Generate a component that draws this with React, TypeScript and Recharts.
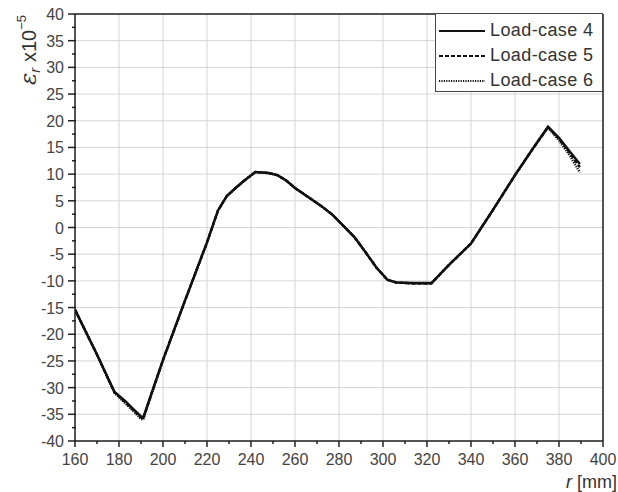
import {
  CartesianGrid,
  Legend,
  Line,
  LineChart,
  ReferenceLine,
  XAxis,
  YAxis,
} from "recharts";

// radial position r [mm]
const rValues = [
  160, 165, 170, 175, 178, 183, 187, 190, 191, 195, 200, 210, 220, 225, 229,
  233, 237, 242, 248, 252, 256, 260, 266, 272, 277, 282, 287, 292, 297, 302,
  306, 314, 322, 330, 340, 350, 360, 368, 375, 380, 385, 389.5,
];

// radial strain, x10^-5
const loadCase4 = [
  -15.4, -19.6, -23.8, -28.2, -30.8, -32.6, -34.2, -35.4, -35.6, -30.8, -24.8,
  -13.7, -2.8, 3.2, 5.9, 7.4, 8.8, 10.4, 10.2, 9.8, 8.8, 7.4, 5.7, 4.0, 2.4,
  0.3, -1.8, -4.6, -7.5, -9.8, -10.3, -10.4, -10.4, -7.0, -3.0, 3.3, 9.8, 14.7,
  18.9, 16.8, 14.2, 11.9,
];
const loadCase5 = [
  -15.4, -19.6, -23.8, -28.3, -30.9, -32.8, -34.4, -35.6, -35.8, -30.9, -24.8,
  -13.7, -2.8, 3.2, 5.9, 7.4, 8.8, 10.4, 10.2, 9.8, 8.8, 7.4, 5.7, 4.0, 2.4,
  0.3, -1.8, -4.6, -7.5, -9.8, -10.3, -10.5, -10.5, -7.0, -3.0, 3.3, 9.8, 14.7,
  18.8, 16.6, 13.9, 11.3,
];
const loadCase6 = [
  -15.4, -19.6, -23.9, -28.4, -31.0, -33.0, -34.6, -35.9, -36.0, -31.0, -24.9,
  -13.7, -2.8, 3.2, 5.9, 7.4, 8.8, 10.4, 10.2, 9.8, 8.8, 7.4, 5.7, 4.0, 2.4,
  0.3, -1.8, -4.6, -7.5, -9.8, -10.3, -10.5, -10.5, -7.0, -3.0, 3.3, 9.8, 14.7,
  18.7, 16.3, 13.4, 10.3,
];

const seriesNames = ["Load-case 4", "Load-case 5", "Load-case 6"];
const seriesDash = ["0", "4 2", "1.2 1.2"];

const xTicks = [
  160, 170, 180, 190, 200, 210, 220, 230, 240, 250, 260, 270, 280, 290, 300,
  310, 320, 330, 340, 350, 360, 370, 380, 390, 400,
];
const yTicks = [
  -40, -37.5, -35, -32.5, -30, -27.5, -25, -22.5, -20, -17.5, -15, -12.5, -10,
  -7.5, -5, -2.5, 0, 2.5, 5, 7.5, 10, 12.5, 15, 17.5, 20, 22.5, 25, 27.5, 30,
  32.5, 35, 37.5, 40,
];

const toPoints = (vals: number[]) => rValues.map((r, i) => ({ r, v: vals[i] }));
const allSeries = [loadCase4, loadCase5, loadCase6];

const AXIS = "#222";
const LABEL = "#444";

function XTick({ x, y, payload }: any) {
  const major = payload.value % 20 === 0;
  return (
    <g>
      <line x1={x} x2={x} y1={y} y2={y + (major ? 6 : 3)} stroke={AXIS} strokeWidth={1.5} />
      {major && (
        <text x={x} y={y + 24} textAnchor="middle" fontSize={16} fill={LABEL}>
          {payload.value}
        </text>
      )}
    </g>
  );
}

function YTick({ x, y, payload }: any) {
  const major = payload.value % 5 === 0;
  return (
    <g>
      <line x1={x - (major ? 7 : 3)} x2={x + 1} y1={y} y2={y} stroke={AXIS} strokeWidth={1.5} />
      {major && (
        <text x={x - 11} y={y + 6} textAnchor="end" fontSize={16} fill={LABEL}>
          {payload.value}
        </text>
      )}
    </g>
  );
}

function YLabel() {
  return (
    <text transform="translate(36,50) rotate(-90)" textAnchor="middle" fill="#333" fontSize={20}>
      <tspan fontStyle="italic" fontFamily="DejaVu Serif" fontSize={23}>ε</tspan>
      <tspan fontStyle="italic" fontSize={15} dy={4}>r</tspan>
      <tspan dy={-4}> x10</tspan>
      <tspan fontSize={13} dy={-10}>−5</tspan>
    </text>
  );
}

function XLabel() {
  return (
    <text x={617} y={488} textAnchor="end" fill="#333" fontSize={18}>
      <tspan fontStyle="italic">r</tspan>
      <tspan> [mm]</tspan>
    </text>
  );
}

function LegendBox({ payload }: any) {
  const items = payload ?? [];
  return (
    <div
      style={{
        width: 168,
        height: 79,
        boxSizing: "border-box",
        border: "1.5px solid #444",
        background: "#fff",
        paddingTop: 4,
      }}
    >
      {items.map((item: any, i: number) => (
        <div key={item.value} style={{ display: "flex", alignItems: "center", height: 25 }}>
          <svg width={52} height={10}>
            <line
              x1={3}
              x2={49}
              y1={5}
              y2={5}
              stroke="#111"
              strokeWidth={2}
              strokeDasharray={seriesDash[i]}
            />
          </svg>
          <span style={{ marginLeft: 2, fontSize: 18, letterSpacing: 0.4, color: "#333" }}>
            {item.value}
          </span>
        </div>
      ))}
    </div>
  );
}

export default function App() {
  return (
    <div
      style={{
        position: "absolute",
        left: 0,
        top: 0,
        width: 618,
        height: 492,
        background: "#fff",
        fontFamily: "'Liberation Sans', Arial, sans-serif",
      }}
    >
      <LineChart width={618} height={492} margin={{ top: 14, right: 15, bottom: 0, left: 0 }}>
        <CartesianGrid
          stroke="#d4d4d4"
          strokeWidth={1}
          horizontalValues={yTicks.filter((t) => t % 5 === 0)}
          verticalValues={xTicks.filter((t) => t % 20 === 0)}
        />
        <XAxis
          dataKey="r"
          type="number"
          domain={[160, 400]}
          ticks={xTicks}
          interval={0}
          allowDataOverflow
          height={51}
          tickSize={0}
          tickMargin={0}
          tickLine={false}
          tick={<XTick />}
          axisLine={{ stroke: AXIS, strokeWidth: 1.5 }}
          label={{ content: XLabel }}
        />
        <YAxis
          type="number"
          domain={[-40, 40]}
          ticks={yTicks}
          interval={0}
          allowDataOverflow
          width={75}
          tickSize={0}
          tickMargin={0}
          tickLine={false}
          tick={<YTick />}
          axisLine={{ stroke: AXIS, strokeWidth: 1.5 }}
          label={{ content: YLabel }}
        />
        <ReferenceLine y={40} stroke={AXIS} strokeWidth={1.5} />
        <ReferenceLine x={400} stroke={AXIS} strokeWidth={1.5} />
        {allSeries.map((vals, i) => (
          <Line
            key={seriesNames[i]}
            data={toPoints(vals)}
            dataKey="v"
            name={seriesNames[i]}
            type="linear"
            stroke="#111"
            strokeWidth={2.4}
            strokeDasharray={seriesDash[i]}
            dot={false}
            isAnimationActive={false}
          />
        ))}
        <Legend
          layout="horizontal"
          verticalAlign="middle"
          align="center"
          content={LegendBox}
          wrapperStyle={{ top: 13, left: 435, width: 168, height: 79 }}
        />
      </LineChart>
    </div>
  );
}
